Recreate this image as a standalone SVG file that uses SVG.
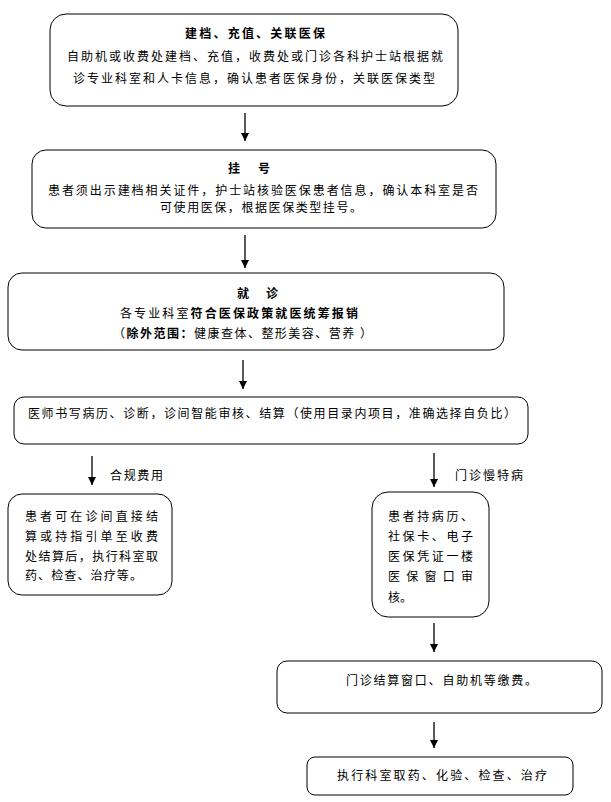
<svg xmlns="http://www.w3.org/2000/svg" width="611" height="802" viewBox="0 0 611 802">
<defs>
<marker id="ah" viewBox="0 0 10 10" refX="10" refY="5" markerWidth="8" markerHeight="8" markerUnits="userSpaceOnUse" orient="auto">
<path d="M0,0 L10,5 L0,10 Z" fill="#000"/>
</marker>
<style>
.box{fill:#fff;stroke:#000;stroke-width:1}
text{font-family:"Noto Sans CJK SC","Noto Sans",sans-serif;font-size:12px;fill:#000}
.b{font-weight:bold}
.c{text-anchor:middle}
.ln{stroke:#000;stroke-width:1.3;fill:none;marker-end:url(#ah)}
</style>
</defs>
<rect width="611" height="802" fill="#fff"/>

<g id="n1">
<rect class="box" x="50" y="14" width="408" height="92" rx="16"/>
<text class="b" x="185" y="37.5" textLength="140" lengthAdjust="spacing">建档、充值、关联医保</text>
<text x="67" y="61" textLength="376" lengthAdjust="spacing">自助机或收费处建档、充值，收费处或门诊各科护士站根据就</text>
<text x="73" y="82.5" textLength="362" lengthAdjust="spacing">诊专业科室和人卡信息，确认患者医保身份，关联医保类型</text>
</g>

<g id="n2">
<rect class="box" x="32" y="150" width="464" height="78" rx="14"/>
<text class="b" x="228" y="173" textLength="42" lengthAdjust="spacing">挂 号</text>
<text x="48" y="194.5" textLength="430" lengthAdjust="spacing">患者须出示建档相关证件，护士站核验医保患者信息，确认本科室是否</text>
<text x="160" y="212" textLength="202" lengthAdjust="spacing">可使用医保，根据医保类型挂号。</text>
</g>

<g id="n3">
<rect class="box" x="8" y="273" width="496" height="77" rx="14"/>
<text class="b" x="237" y="297.5" textLength="41" lengthAdjust="spacing">就 诊</text>
<text x="120" y="317.5" textLength="238" lengthAdjust="spacing">各专业科室<tspan class="b">符合医保政策就医统筹报销</tspan></text>
<text x="113" y="337.5" textLength="259" lengthAdjust="spacing">（<tspan class="b">除外范围：</tspan>健康查体、整形美容、营养 ）</text>
</g>

<g id="n4">
<rect class="box" x="14" y="397" width="514" height="47" rx="10"/>
<text x="28" y="418" textLength="488" lengthAdjust="spacing">医师书写病历、诊断，诊间智能审核、结算（使用目录内项目，准确选择自负比）</text>
</g>

<g id="n5">
<rect class="box" x="8" y="494" width="164" height="101" rx="14"/>
<text x="25" y="521" textLength="133" lengthAdjust="spacing">患者可在诊间直接结</text>
<text x="25" y="541" textLength="133" lengthAdjust="spacing">算或持指引单至收费</text>
<text x="25" y="560.5" textLength="133" lengthAdjust="spacing">处结算后，执行科室取</text>
<text x="25" y="579.5" textLength="117" lengthAdjust="spacing">药、检查、治疗等。</text>
</g>

<g id="n6">
<rect class="box" x="372" y="492" width="117" height="125" rx="16"/>
<text x="388" y="521" textLength="85" lengthAdjust="spacing">患者持病历、</text>
<text x="388" y="541" textLength="85" lengthAdjust="spacing">社保卡、电子</text>
<text x="388" y="561" textLength="85" lengthAdjust="spacing">医保凭证一楼</text>
<text x="388" y="580.5" textLength="85" lengthAdjust="spacing">医保窗口审</text>
<text x="388" y="602">核。</text>
</g>

<g id="n7">
<rect class="box" x="277" y="661" width="325" height="52" rx="10"/>
<text x="346" y="684.5" textLength="191" lengthAdjust="spacing">门诊结算窗口、自助机等缴费。</text>
</g>

<g id="n8">
<rect class="box" x="307" y="757" width="266" height="38" rx="8"/>
<text x="337" y="779.5" textLength="210" lengthAdjust="spacing">执行科室取药、化验、检查、治疗</text>
</g>

<g id="connectors">
<line class="ln" x1="245" y1="113" x2="245" y2="141"/>
<line class="ln" x1="245" y1="235" x2="245" y2="268"/>
<line class="ln" x1="243" y1="360" x2="243" y2="389"/>
<line class="ln" x1="92" y1="456" x2="92" y2="485"/>
<text x="110" y="479.5" textLength="53" lengthAdjust="spacing">合规费用</text>
<line class="ln" x1="434" y1="453" x2="434" y2="487"/>
<text x="455" y="479.5" textLength="68" lengthAdjust="spacing">门诊慢特病</text>
<line class="ln" x1="434" y1="623" x2="434" y2="652"/>
<line class="ln" x1="434" y1="722" x2="434" y2="748"/>
</g>
</svg>
